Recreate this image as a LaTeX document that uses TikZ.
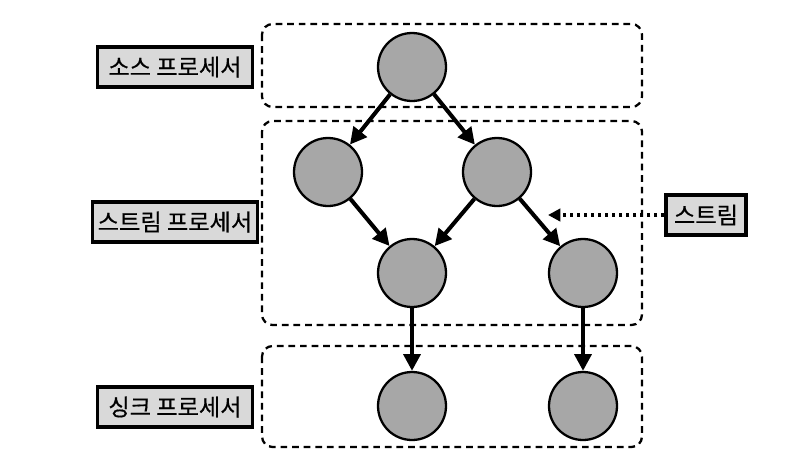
\documentclass[tikz,border=0pt]{standalone}
\usepackage{fontspec}
\setmainfont{Noto Sans CJK KR}[FakeBold=0.5]
\usetikzlibrary{arrows.meta,positioning}

\begin{document}
\begin{tikzpicture}[x=0.02cm,y=-0.02cm,font=\fontsize{13.2}{15}\selectfont,
    >={Triangle[length=9.5pt,width=9.5pt]}]
  \tikzstyle{proc}=[circle,draw,line width=1.3pt,fill={rgb:black,1;white,1.9},minimum size=1.36cm,inner sep=0pt]
  \tikzstyle{group}=[draw,line width=1.3pt,dash pattern=on 3.8pt off 2.8pt,rounded corners=6pt]
  \tikzstyle{tag}=[draw,line width=1.8pt,fill=gray!30,minimum height=0.8cm,inner xsep=3pt]
  \tikzstyle{flow}=[->,line width=2.3pt]
  \useasboundingbox (0,0) rectangle (790,470);
  % groups
  \draw[group] (262,24) rectangle (642,107);
  \draw[group] (262,121) rectangle (642,325);
  \draw[group] (262,346) rectangle (642,447);
  % processors
  \node[proc] (src) at (412,67) {};
  \node[proc] (s1) at (328,172) {};
  \node[proc] (s2) at (497,172) {};
  \node[proc] (s3) at (412,273) {};
  \node[proc] (s4) at (583,273) {};
  \node[proc] (k1) at (412,406) {};
  \node[proc] (k2) at (583,406) {};
  % labels
  \node[tag,minimum width=3.1cm] (lsrc) at (175,67) {소스 프로세서};
  \node[tag,minimum width=3.14cm] (lstr) at (175,222) {스트림 프로세서};
  \node[tag,minimum width=3.1cm] (lsnk) at (175,407) {싱크 프로세서};
  \node[tag,minimum width=1.6cm] (lst) at (706,215) {스트림};
  \coordinate (st) at (548,215);
  \path[flow]
  (src) edge (s1)
  (src) edge (s2)
  (s1) edge (s3)
  (s2) edge (s3)
  (s2) edge (s4)
  (s3) edge (k1)
  (s4) edge (k2)
  ;
  \draw[->,line width=2pt,dash pattern=on 2pt off 2pt,>={Triangle[length=7pt,width=7pt]}] (lst) -- (st);
\end{tikzpicture}
\end{document}
